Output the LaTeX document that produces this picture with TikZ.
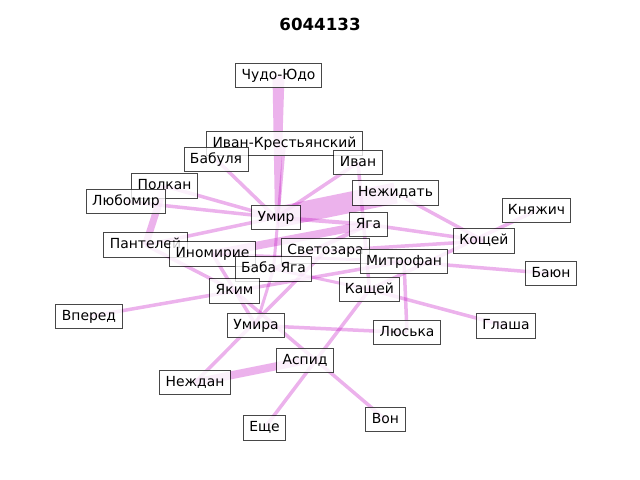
\documentclass[tikz,border=0pt]{standalone}
\usepackage{fontspec}
\setmainfont{DejaVu Sans}
\definecolor{mm}{rgb}{0.75,0,0.75}
\tikzset{
  lnk/.style={draw=mm, draw opacity=0.3, line width=#1*0.72pt, line cap=butt},
  lnk/.default=3.5,
  wdg/.style={fill=mm, fill opacity=0.3, draw=none},
  lbl/.style={draw=black, draw opacity=0.72, fill=white, fill opacity=0.8, text opacity=1,
    line width=0.72pt, inner xsep=4.3pt, inner ysep=3.9pt, text height=7.5pt, text depth=2.3pt,
    font=\fontsize{10}{12}\selectfont},
}
\begin{document}
\begin{tikzpicture}[x=0.72pt,y=-0.72pt]
\useasboundingbox (0,0) rectangle (640,480);
\node[font=\bfseries\fontsize{12}{14}\selectfont] (title) at (320,24) {6044133};
% node positions
\coordinate (cy) at (278.5,75.5);
\coordinate (ik) at (284.5,143.5);
\coordinate (bab) at (216,159.5);
\coordinate (iv) at (358,162.5);
\coordinate (pol) at (164.5,186);
\coordinate (lub) at (126,201.5);
\coordinate (nzh) at (395.5,193);
\coordinate (um) at (276,217.5);
\coordinate (ya) at (368.5,224.5);
\coordinate (kn) at (536.5,210.5);
\coordinate (ko) at (484,241);
\coordinate (pan) at (145.5,245);
\coordinate (ino) at (212.5,254);
\coordinate (sv) at (325.5,251);
\coordinate (mi) at (404,261.5);
\coordinate (by) at (273.5,269);
\coordinate (ba) at (551,273.5);
\coordinate (yak) at (234.5,291);
\coordinate (ka) at (369.5,289.5);
\coordinate (vp) at (89,316.5);
\coordinate (uma) at (256,325.5);
\coordinate (gl) at (506,326);
\coordinate (lu) at (407,332.5);
\coordinate (as) at (305,360.5);
\coordinate (nd) at (195,382.5);
\coordinate (es) at (264.5,428);
\coordinate (von) at (385.5,419.5);
% tapered edge Чудо-Юдо -- Умир
\fill[wdg] ([xshift=-6*0.72pt]cy) -- ([xshift=6*0.72pt]cy) -- ([xshift=4*0.72pt]um) -- ([xshift=-1*0.72pt]um) -- cycle;
% edges
\draw[lnk=21] (nzh) -- (um);
\draw[lnk=3] (ik) -- (by);
\draw[lnk=7] (pol) -- (pan);
\draw[lnk=8] (ya) -- (ino);
\draw[lnk=4] (ya) -- (um);
\draw[lnk=4] (ya) -- (by);
\draw[lnk=8] (nd) -- (as);
\draw[lnk] (bab) -- (um);
\draw[lnk] (iv) -- (um);
\draw[lnk] (iv) -- (ka);
\draw[lnk] (nzh) -- (ko);
\draw[lnk] (pol) -- (um);
\draw[lnk] (lub) -- (um);
\draw[lnk] (pan) -- (um);
\draw[lnk] (pan) -- (yak);
\draw[lnk] (ya) -- (ko);
\draw[lnk] (ko) -- (sv);
\draw[lnk] (kn) -- (ka);
\draw[lnk] (mi) -- (ba);
\draw[lnk] (ka) -- (gl);
\draw[lnk] (mi) -- (lu);
\draw[lnk] (vp) -- (mi);
\draw[lnk] (uma) -- (lu);
\draw[lnk] (ka) -- (es);
\draw[lnk] (nd) -- (sv);
\draw[lnk] (yak) -- (von);
\draw[lnk] (uma) -- (ino);
\draw[lnk=3] (ino) -- (mi);
\draw[lnk=3] (by) -- (ka);
\draw[lnk=3] (by) -- (uma);
% labels
\node[lbl] (nIK) at (ik) {Иван-Крестьянский};
\node[lbl] (nCY) at (cy) {Чудо-Юдо};
\node[lbl] (nBAB) at (bab) {Бабуля};
\node[lbl] (nIV) at (iv) {Иван};
\node[lbl] (nPOL) at (pol) {Полкан};
\node[lbl] (nLUB) at (lub) {Любомир};
\node[lbl] (nNZH) at (nzh) {Нежидать};
\node[lbl] (nUM) at (um) {Умир};
\node[lbl] (nYA) at (ya) {Яга};
\node[lbl] (nKN) at (kn) {Княжич};
\node[lbl] (nKO) at (ko) {Кощей};
\node[lbl] (nPAN) at (pan) {Пантелей};
\node[lbl] (nINO) at (ino) {Иномирие};
\node[lbl] (nSV) at (sv) {Светозара};
\node[lbl] (nBY) at (by) {Баба Яга};
\node[lbl] (nMI) at (mi) {Митрофан};
\node[lbl] (nBA) at (ba) {Баюн};
\node[lbl] (nYAK) at (yak) {Яким};
\node[lbl] (nKA) at (ka) {Кащей};
\node[lbl] (nVP) at (vp) {Вперед};
\node[lbl] (nUMA) at (uma) {Умира};
\node[lbl] (nGL) at (gl) {Глаша};
\node[lbl] (nLU) at (lu) {Люська};
\node[lbl] (nAS) at (as) {Аспид};
\node[lbl] (nND) at (nd) {Неждан};
\node[lbl] (nES) at (es) {Еще};
\node[lbl] (nVON) at (von) {Вон};
\end{tikzpicture}
\end{document}
